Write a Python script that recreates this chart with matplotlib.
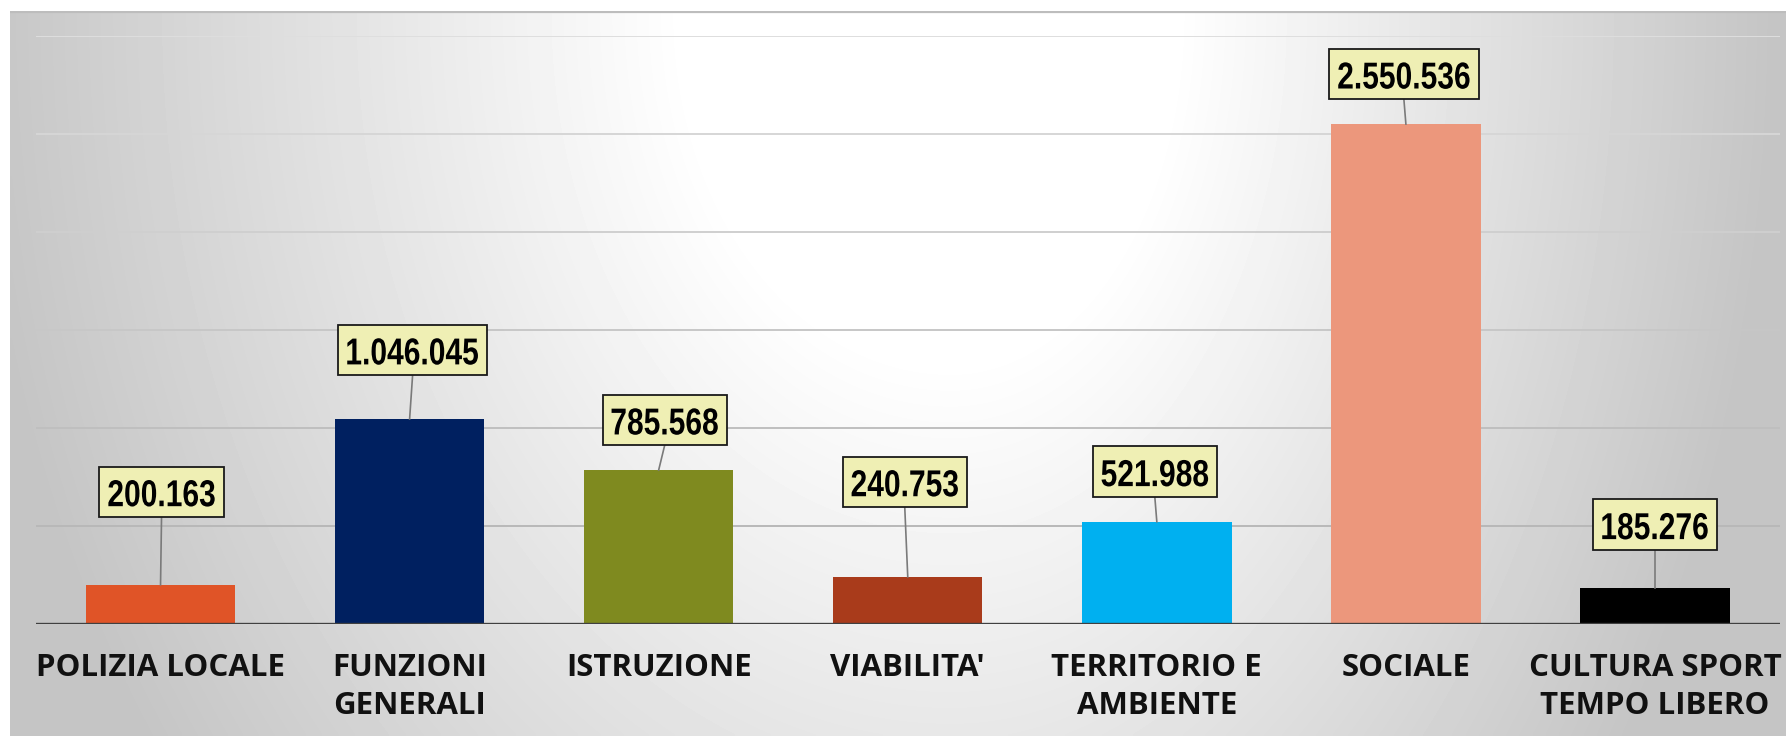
import numpy as np
import matplotlib
matplotlib.use("Agg")
import matplotlib.pyplot as plt
from matplotlib.textpath import TextPath
from matplotlib.font_manager import FontProperties
from matplotlib.patches import PathPatch, Rectangle
from matplotlib.lines import Line2D
from matplotlib.transforms import Affine2D, ScaledTranslation

# spesa per funzione
categories = ["POLIZIA LOCALE", "FUNZIONI\nGENERALI", "ISTRUZIONE", "VIABILITA'",
              "TERRITORIO E\nAMBIENTE", "SOCIALE", "CULTURA SPORT\nTEMPO LIBERO"]
values = [200163, 1046045, 785568, 240753, 521988, 2550536, 185276]
bar_colors = ["#e05427", "#002060", "#7f8a1f", "#a93b1b", "#00b0f0", "#ec977c", "#000000"]

# label box placement (pixels from bar top), set by hand like in the original
label_dx = [1, 3, 6, -3, -2, -2, 0]
label_dy = [93, 69, 50, 95, 50, 50, 63]

W, H = 1786, 736
fig = plt.figure(figsize=(W / 100, H / 100), dpi=100)
fig.patch.set_facecolor("white")

# background panel with radial-ish grey gradient
bg = fig.add_axes([10 / W, 0, 1 - 10 / W, 1 - 11 / H])
gx = np.linspace(0, 1, 400)
gy = np.linspace(0, 1, 200)
X, Y = np.meshgrid(gx, gy)
rx = np.where(X < 0.53, 0.5, 0.42)
r = np.sqrt(((X - 0.53) / rx) ** 2 + (Y / 1.6) ** 2)
shade = 255 - 58 * np.clip((r - 0.3) / 0.8, 0, 1)
bg.imshow(shade, cmap="gray", vmin=0, vmax=255, aspect="auto",
          extent=(0, 1, 1, 0), interpolation="bilinear")
bg.axhline(0.002, color="#bdbdbd", lw=1.6)
bg.set_xlim(0, 1)
bg.set_ylim(1, 0)
bg.axis("off")

ax = fig.add_axes([36 / W, 1 - 624 / H, (1779.5 - 36) / W, (624 - 36) / H])
ax.set_facecolor("none")
x = np.arange(len(categories))

# gridlines, lighter toward the top
for k, gv in enumerate(range(500000, 3000001, 500000)):
    c = 0.72 + 0.03 * k
    ax.axhline(gv, color=(c, c, c), lw=1.4, zorder=1)

ax.bar(x, values, width=0.6, color=bar_colors, zorder=2)
ax.axhline(0, color="#404040", lw=2.4, zorder=3)

ax.set_xlim(-0.5, len(categories) - 0.5)
ax.set_ylim(0, 3000000)
for s in ax.spines.values():
    s.set_visible(False)
ax.set_yticks([])
ax.set_xticks(x)
ax.set_xticklabels(categories, fontfamily="Open Sans", fontweight="bold",
                   fontsize=22.5, color="#111111", linespacing=1.36)
ax.tick_params(axis="x", length=0, pad=21)

# value labels: narrow bold digits in a pale yellow box with a leader line
fp = FontProperties(family="Liberation Sans", weight="bold")
em = 37.5        # font size in pixels
squeeze = 0.8    # narrow the glyphs
cap = 0.716 * em
for i, v in enumerate(values):
    txt = f"{v:,}".replace(",", ".")
    anchor = ScaledTranslation(i, v, ax.transData)   # pixel offsets from bar top
    place = Affine2D().translate(label_dx[i], label_dy[i]) + anchor
    tp = TextPath((0, 0), txt, size=em, prop=fp)
    ext = tp.get_extents()
    tw = ext.width * squeeze
    glyph = Affine2D().translate(-ext.x0, 0).scale(squeeze, 1).translate(-tw / 2, -cap / 2 - 1)
    bw, bh = tw + 18, 50.5
    ax.add_line(Line2D([label_dx[i], 0], [label_dy[i] - bh / 2, 0], color="#7a7a7a",
                       lw=1.2, transform=anchor, zorder=4))
    ax.add_patch(Rectangle((-bw / 2, -bh / 2), bw, bh, fc="#efefb4", ec="#1a1a1a",
                           lw=1.3, transform=place, zorder=5))
    ax.add_patch(PathPatch(tp, fc="black", ec="none", transform=glyph + place, zorder=6))

fig.savefig("out.png", dpi=100)
